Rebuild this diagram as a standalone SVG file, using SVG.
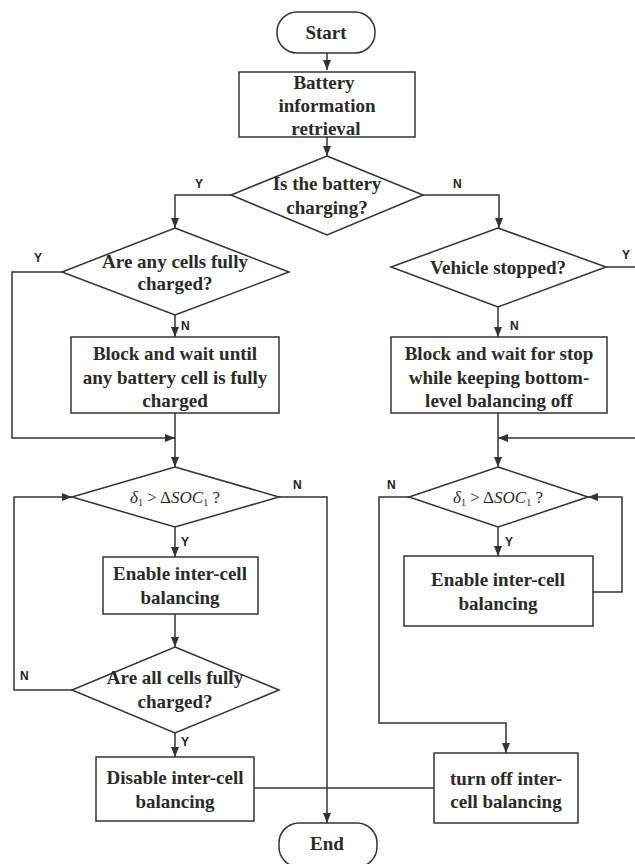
<svg xmlns="http://www.w3.org/2000/svg" width="635" height="864" viewBox="0 0 635 864">
<defs>
<style>
.s{fill:#fff;stroke:#333;stroke-width:1.5}
.t{font-family:'Liberation Serif','Times New Roman','DejaVu Serif',serif;font-weight:bold;font-size:19px;fill:#2a2a2a;text-anchor:middle}
.f{font-family:'Liberation Serif','Times New Roman','DejaVu Serif',serif;font-size:17px;fill:#2a2a2a;text-anchor:middle}
.l{font-family:'Liberation Sans',Arial,sans-serif;font-weight:bold;font-size:12px;fill:#222}
.c{fill:none;stroke:#333;stroke-width:1.5}
</style>
<marker id="a" viewBox="0 0 10 10" refX="10" refY="5" markerWidth="10" markerHeight="10" markerUnits="userSpaceOnUse" orient="auto">
<path d="M0,1 L10,5 L0,9 Z" fill="#333"/>
</marker>
</defs>
<rect width="635" height="864" fill="#fff"/>

<g id="connectors">
<path class="c" d="M327,53 V70" marker-end="url(#a)"/>
<path class="c" d="M327,137 V156" marker-end="url(#a)"/>
<path class="c" d="M231,195 H175 V228" marker-end="url(#a)"/>
<path class="c" d="M423,195 H499 V228" marker-end="url(#a)"/>
<path class="c" d="M62,272 H12 V438 H175" marker-end="url(#a)"/>
<path class="c" d="M175,315 V337" marker-end="url(#a)"/>
<path class="c" d="M175,413 V467" marker-end="url(#a)"/>
<path class="c" d="M606,267 H635"/>
<path class="c" d="M635,438 H498" marker-end="url(#a)"/>
<path class="c" d="M498,307 V337" marker-end="url(#a)"/>
<path class="c" d="M498,413 V467" marker-end="url(#a)"/>
<path class="c" d="M279,497 H327 V823" marker-end="url(#a)"/>
<path class="c" d="M175,527 V557" marker-end="url(#a)"/>
<path class="c" d="M175,614 V647" marker-end="url(#a)"/>
<path class="c" d="M72,690 H14 V497 H72" marker-end="url(#a)"/>
<path class="c" d="M175,733 V757" marker-end="url(#a)"/>
<path class="c" d="M254,788 H434"/>
<path class="c" d="M409,497 H379 V723 H506 V753" marker-end="url(#a)"/>
<path class="c" d="M498,527 V556" marker-end="url(#a)"/>
<path class="c" d="M593,592 H622 V497 H588" marker-end="url(#a)"/>
</g>

<g id="labels">
<text class="l" x="195" y="188">Y</text>
<text class="l" x="453" y="188">N</text>
<text class="l" x="34" y="262">Y</text>
<text class="l" x="181" y="330">N</text>
<text class="l" x="622" y="259">Y</text>
<text class="l" x="510" y="330">N</text>
<text class="l" x="293" y="489">N</text>
<text class="l" x="181" y="546">Y</text>
<text class="l" x="387" y="489">N</text>
<text class="l" x="505" y="546">Y</text>
<text class="l" x="20" y="680">N</text>
<text class="l" x="181" y="746">Y</text>
</g>

<g id="start">
<rect class="s" x="277" y="12" width="98" height="41" rx="20"/>
<text class="t" x="326" y="39">Start</text>
</g>

<g id="retrieval">
<rect class="s" x="239" y="72" width="176" height="65"/>
<text class="t" x="324" y="89">Battery</text>
<text class="t" x="327" y="112">information</text>
<text class="t" x="326" y="135">retrieval</text>
</g>

<g id="charging">
<polygon class="s" points="327,156 423,195 327,235 231,195"/>
<text class="t" x="327" y="190">Is the battery</text>
<text class="t" x="327" y="214">charging?</text>
</g>

<g id="anyFull">
<polygon class="s" points="175,228 289,272 175,315 62,272"/>
<text class="t" x="175" y="268">Are any cells fully</text>
<text class="t" x="175" y="290">charged?</text>
</g>

<g id="blockWait">
<rect class="s" x="71" y="337" width="208" height="76"/>
<text class="t" x="175" y="360">Block and wait until</text>
<text class="t" x="175" y="384">any battery cell is fully</text>
<text class="t" x="175" y="407">charged</text>
</g>

<g id="stopped">
<polygon class="s" points="498,228 606,267 498,307 391,267"/>
<text class="t" x="498" y="274">Vehicle stopped?</text>
</g>

<g id="blockStop">
<rect class="s" x="391" y="337" width="216" height="76"/>
<text class="t" x="499" y="360">Block and wait for stop</text>
<text class="t" x="499" y="384">while keeping bottom-</text>
<text class="t" x="499" y="407">level balancing off</text>
</g>

<g id="deltaLeft">
<polygon class="s" points="175,467 279,497 175,527 72,497"/>
<text class="f" x="175" y="503"><tspan font-style="italic">δ</tspan><tspan font-size="10" dy="3">1</tspan><tspan dy="-3"> &gt; Δ</tspan><tspan font-style="italic">SOC</tspan><tspan font-size="10" dy="3">1</tspan><tspan dy="-3"> ?</tspan></text>
</g>

<g id="enableLeft">
<rect class="s" x="103" y="557" width="155" height="57"/>
<text class="t" x="180" y="580">Enable inter-cell</text>
<text class="t" x="180" y="604">balancing</text>
</g>

<g id="allFull">
<polygon class="s" points="175,647 279,690 175,733 72,690"/>
<text class="t" x="175" y="684">Are all cells fully</text>
<text class="t" x="175" y="708">charged?</text>
</g>

<g id="disable">
<rect class="s" x="96" y="757" width="158" height="64"/>
<text class="t" x="175" y="784">Disable inter-cell</text>
<text class="t" x="175" y="808">balancing</text>
</g>

<g id="deltaRight">
<polygon class="s" points="498,467 588,497 498,527 409,497"/>
<text class="f" x="498" y="503"><tspan font-style="italic">δ</tspan><tspan font-size="10" dy="3">1</tspan><tspan dy="-3"> &gt; Δ</tspan><tspan font-style="italic">SOC</tspan><tspan font-size="10" dy="3">1</tspan><tspan dy="-3"> ?</tspan></text>
</g>

<g id="enableRight">
<rect class="s" x="404" y="556" width="189" height="70"/>
<text class="t" x="498" y="586">Enable inter-cell</text>
<text class="t" x="498" y="610">balancing</text>
</g>

<g id="turnOff">
<rect class="s" x="434" y="753" width="144" height="70"/>
<text class="t" x="506" y="785">turn off inter-</text>
<text class="t" x="506" y="808">cell balancing</text>
</g>

<g id="end">
<rect class="s" x="279" y="823" width="98" height="44" rx="20"/>
<text class="t" x="327" y="850">End</text>
</g>
</svg>
